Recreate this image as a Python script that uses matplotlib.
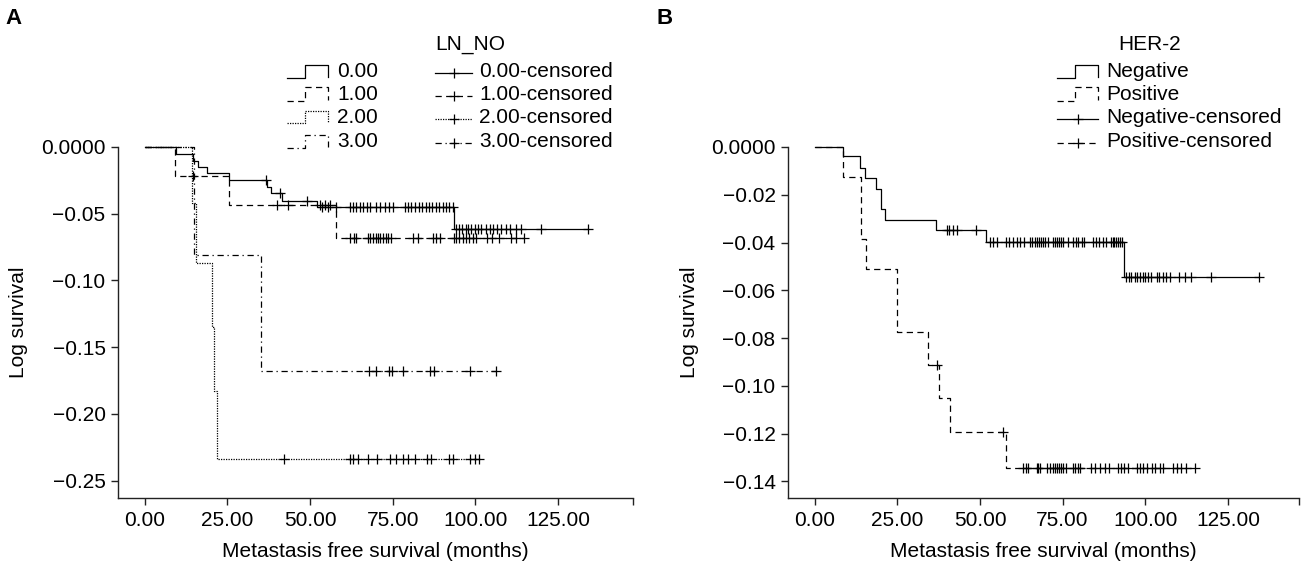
import numpy as np
import matplotlib.pyplot as plt
from matplotlib.lines import Line2D

plt.rcParams['font.family'] = ['Liberation Sans', 'DejaVu Sans']

# ---- panel A : LN_NO groups (event times / log survival after each event / censored times)
ln0_times = [9.4, 14.5, 16.0, 19.0, 25.5, 37.1, 38.3, 41.4, 52.0, 93.6]
ln0_vals = [-0.0055, -0.0103, -0.0152, -0.0197, -0.0247, -0.0298, -0.0347, -0.0405, -0.0447, -0.0615]
ln0_cens = [36.6, 41.0, 49.1, 53.5, 55.5, 58.0, 62.0, 63.0, 64.0, 65.0, 66.0, 67.1, 68.1, 69.9,
            71.1, 72.6, 73.9, 75.1, 78.6, 79.6, 80.6, 81.7, 83.0, 84.0, 85.0, 86.0, 87.0, 88.0,
            89.0, 90.1, 91.1, 92.1, 93.3, 94.3, 95.1, 96.1, 97.1, 97.8, 98.8, 99.8, 100.8, 101.8,
            103.1, 104.3, 105.4, 106.6, 107.9, 109.2, 110.6, 112.2, 113.9, 120.0, 134.1]

ln1_times = [9.1, 25.5, 58.0]
ln1_vals = [-0.0217, -0.0435, -0.068]
ln1_cens = [14.6, 39.9, 43.4, 52.9, 54.5, 56.0, 62.0, 63.2, 64.0, 67.6, 68.3, 69.1, 69.9, 70.6,
            71.3, 72.1, 72.9, 73.6, 74.6, 81.2, 82.7, 87.2, 88.2, 89.2, 93.5, 94.3, 95.1, 96.3,
            97.1, 98.1, 99.3, 100.3, 103.4, 105.2, 107.2, 110.9, 112.4, 114.6]

ln2_times = [14.4, 15.5, 20.5, 20.9, 21.9]
ln2_vals = [-0.042, -0.087, -0.1347, -0.1827, -0.234]
ln2_cens = [42.2, 62.0, 62.9, 64.4, 67.6, 70.4, 74.1, 76.1, 78.1, 79.6, 81.9, 85.4, 86.7, 92.0,
            93.3, 98.5, 99.8, 101.1]

ln3_times = [15.0, 35.1]
ln3_vals = [-0.081, -0.1677]
ln3_cens = [67.9, 69.9, 73.9, 74.9, 78.1, 86.2, 87.4, 98.5, 106.4]

# ---- panel B : HER-2
neg_times = [8.5, 13.7, 15.2, 18.5, 20.0, 21.3, 36.6, 51.8, 93.5]
neg_vals = [-0.0036, -0.0088, -0.0131, -0.0176, -0.0259, -0.0304, -0.0348, -0.0396, -0.0546]
neg_cens = [39.9, 40.7, 41.9, 43.1, 48.8, 53.0, 54.0, 55.0, 57.8, 58.8, 60.0, 61.2, 62.2, 63.2,
            65.2, 65.8, 66.5, 67.2, 67.8, 68.5, 69.2, 69.8, 70.5, 72.0, 72.6, 73.2, 73.8, 74.4,
            75.0, 76.5, 78.0, 79.1, 79.8, 80.9, 81.6, 84.1, 85.1, 86.1, 87.1, 88.1, 89.6, 90.1,
            90.6, 91.1, 91.6, 92.3, 92.9, 94.3, 95.1, 95.8, 96.9, 97.6, 98.4, 99.2, 99.9, 100.9,
            101.6, 103.4, 104.2, 105.4, 106.4, 107.6, 110.3, 112.0, 113.7, 120.0, 134.4]

pos_times = [8.6, 14.0, 15.5, 25.0, 34.4, 37.6, 40.9, 57.8]
pos_vals = [-0.0127, -0.0385, -0.051, -0.0774, -0.0914, -0.105, -0.1192, -0.1343]
pos_cens = [37.1, 57.0, 63.1, 63.9, 64.6, 67.1, 67.7, 68.3, 70.2, 71.2, 72.0, 72.8, 73.4, 74.0,
            74.6, 75.2, 76.0, 78.0, 78.8, 79.6, 80.4, 83.5, 84.9, 86.3, 87.7, 88.9, 91.7, 92.7,
            93.7, 94.9, 97.4, 98.4, 99.4, 100.6, 102.0, 103.0, 104.4, 105.4, 108.4, 109.6,
            110.8, 112.2, 115.0]

x_ticks = [0, 25, 50, 75, 100, 125]
x_labels = ['0.00', '25.00', '50.00', '75.00', '100.00', '125.00']
a_yticks = [0, -0.05, -0.10, -0.15, -0.20, -0.25]
a_ylabels = ['0.0000', '\u22120.05', '\u22120.10', '\u22120.15', '\u22120.20', '\u22120.25']
b_yticks = [0, -0.02, -0.04, -0.06, -0.08, -0.10, -0.12, -0.14]
b_ylabels = ['0.0000', '\u22120.02', '\u22120.04', '\u22120.06', '\u22120.08', '\u22120.10',
             '\u22120.12', '\u22120.14']

SOLID = '-'
DASH = (0, (5, 3.5))
DOT = (0, (1, 1))
DASHDOT = (0, (5, 3, 1, 3))

W, H = 1303, 569
fig = plt.figure(figsize=(W / 100, H / 100), dpi=100)


def box(l, t, r, b):
    return [l / W, 1 - b / H, (r - l) / W, (b - t) / H]


def fxy(x, y):
    return x / W, 1 - y / H


def km_curve(ax, times, vals, cens, ls):
    t = np.r_[0, times, max(cens)]
    v = np.r_[0, vals, vals[-1]]
    ax.plot(t, v, drawstyle='steps-post', color='k', ls=ls, lw=0.9, clip_on=False)
    idx = np.searchsorted(times, cens, side='right')
    lev = np.r_[0, vals][idx]
    ax.plot(cens, lev, ls='none', marker='+', ms=6.5, mew=0.9, color='k', clip_on=False)


def style_axis(ax, yticks, ylabels, ylim, xmax):
    ax.set_xlim(-8.07, xmax)
    ax.set_ylim(*ylim)
    ax.spines[['top', 'right']].set_visible(False)
    ax.spines[['left', 'bottom']].set_linewidth(1.0)
    ax.spines[['left', 'bottom']].set_color('#222222')
    ax.set_xticks(x_ticks, x_labels)
    ax.set_xticks([xmax], minor=True)
    ax.set_yticks(yticks, ylabels)
    ax.tick_params(which='both', direction='out', length=5, width=1, color='#222222')
    ax.tick_params(labelsize=15, pad=4)
    ax.set_xlabel('Metastasis free survival (months)', fontsize=15)
    ax.set_ylabel('Log survival', fontsize=15)
    ax.xaxis.set_label_coords(0.5, -0.125)
    ax.yaxis.set_label_coords(-0.175, 0.5)


def step_symbol(x0, x1, y, ls):
    xm = x0 + 0.45 * (x1 - x0)
    pts = [fxy(a, b) for a, b in [(x0, y + 6), (xm, y + 6), (xm, y - 7), (x1, y - 7), (x1, y + 5)]]
    fig.add_artist(Line2D([p[0] for p in pts], [p[1] for p in pts], ls=ls, lw=0.9, color='k',
                          transform=fig.transFigure))


def cens_symbol(x0, x1, y, ls):
    pts = [fxy(a, y + 1) for a in (x0, (x0 + x1) / 2, x1)]
    fig.add_artist(Line2D([p[0] for p in pts], [p[1] for p in pts], ls=ls, lw=0.9, color='k',
                          marker='+', markevery=[1], ms=6.5, mew=0.9,
                          transform=fig.transFigure))


# ---- panel A
axA = fig.add_axes(box(118, 147, 633, 498))
km_curve(axA, ln0_times, ln0_vals, ln0_cens, SOLID)
km_curve(axA, ln1_times, ln1_vals, ln1_cens, DASH)
km_curve(axA, ln2_times, ln2_vals, ln2_cens, DOT)
km_curve(axA, ln3_times, ln3_vals, ln3_cens, DASHDOT)
style_axis(axA, a_yticks, a_ylabels, (-0.263, 0), 147.7)

# ---- panel B
axB = fig.add_axes(box(788, 147, 1299, 498))
km_curve(axB, neg_times, neg_vals, neg_cens, SOLID)
km_curve(axB, pos_times, pos_vals, pos_cens, DASH)
style_axis(axB, b_yticks, b_ylabels, (-0.147, 0), 146.5)

# ---- legends
rows = [71.5, 94.5, 117.5, 141.5]
fs = 15
fig.text(*fxy(470, 45), 'LN_NO', fontsize=fs, ha='center', va='center')
groups = ['0.00', '1.00', '2.00', '3.00']
styles = [SOLID, DASH, DOT, DASHDOT]
for g, ls, y in zip(groups, styles, rows):
    step_symbol(287, 328, y, ls)
    fig.text(*fxy(337, y), g, fontsize=fs, ha='left', va='center')
    cens_symbol(435, 472, y, ls)
    fig.text(*fxy(479, y), g + '-censored', fontsize=fs, ha='left', va='center')

fig.text(*fxy(1150, 45), 'HER-2', fontsize=fs, ha='center', va='center')
step_symbol(1057, 1098, rows[0], SOLID)
fig.text(*fxy(1106, rows[0]), 'Negative', fontsize=fs, ha='left', va='center')
step_symbol(1057, 1098, rows[1], DASH)
fig.text(*fxy(1106, rows[1]), 'Positive', fontsize=fs, ha='left', va='center')
cens_symbol(1057, 1098, rows[2], SOLID)
fig.text(*fxy(1106, rows[2]), 'Negative-censored', fontsize=fs, ha='left', va='center')
cens_symbol(1057, 1098, rows[3], DASH)
fig.text(*fxy(1106, rows[3]), 'Positive-censored', fontsize=fs, ha='left', va='center')

fig.text(*fxy(14, 19), 'A', fontsize=16, fontweight='bold', ha='center', va='center')
fig.text(*fxy(665, 19), 'B', fontsize=16, fontweight='bold', ha='center', va='center')

fig.savefig('out.png', dpi=100)
